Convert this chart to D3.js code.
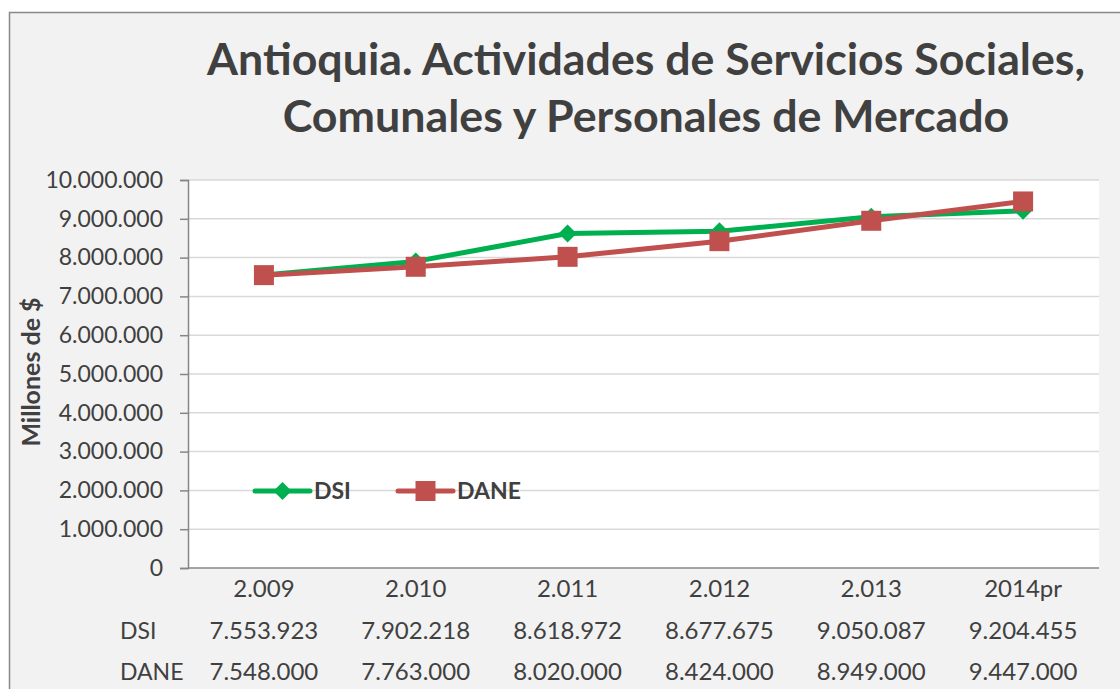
<!DOCTYPE html>
<html>
<head>
<meta charset="utf-8">
<script src="https://cdn.jsdelivr.net/npm/d3@7"></script>
<style>
  html, body { margin: 0; padding: 0; background: #ffffff; }
  svg { display: block; }
  text { font-family: Lato, "Open Sans", sans-serif; fill: #404040; }
</style>
</head>
<body>
<svg id="chart" width="1120" height="689"></svg>
<script>
// Series data
const years = ["2.009", "2.010", "2.011", "2.012", "2.013", "2014pr"];
const dsi = [7553923, 7902218, 8618972, 8677675, 9050087, 9204455];
const dane = [7548000, 7763000, 8020000, 8424000, 8949000, 9447000];
const yTicks = [0, 1000000, 2000000, 3000000, 4000000, 5000000, 6000000, 7000000, 8000000, 9000000, 10000000];
const titleLines = ["Antioquia. Actividades de Servicios Sociales,", "Comunales y Personales de Mercado"];
const yTitle = "Millones de $";
const seriesNames = ["DSI", "DANE"];

const esLocale = d3.formatLocale({ decimal: ",", thousands: ".", grouping: [3], currency: ["$", ""] });
const fmt = esLocale.format(",d");

const svg = d3.select("#chart");
const W = 1120, H = 689;
const plot = { left: 188, right: 1099, top: 180, bottom: 568 };

// Chart area background and frame
svg.append("rect")
  .attr("x", 9.5).attr("y", 12.5)
  .attr("width", W + 20).attr("height", H + 20)
  .attr("fill", "#f2f2f2").attr("stroke", "#898989").attr("stroke-width", 1.5);

svg.append("rect")
  .attr("x", plot.left).attr("y", plot.top)
  .attr("width", plot.right - plot.left).attr("height", plot.bottom - plot.top)
  .attr("fill", "#ffffff");

// Fit a text element to a given width by adjusting its font size
function fitWidth(sel, target) {
  const node = sel.node();
  const fs = parseFloat(sel.attr("font-size"));
  const w = node.getComputedTextLength();
  sel.attr("font-size", (fs * target / w).toFixed(2));
}

// Title
const t1 = svg.append("text").attr("x", 646).attr("y", 75).attr("text-anchor", "middle")
  .attr("font-weight", "bold").attr("font-size", 40).text(titleLines[0]);
fitWidth(t1, 878);
const t2 = svg.append("text").attr("x", 646).attr("y", 132).attr("text-anchor", "middle")
  .attr("font-weight", "bold").attr("font-size", 40).text(titleLines[1]);
fitWidth(t2, 727);

// Scales
const x = d3.scaleBand().domain(years).range([plot.left, plot.right]);
const y = d3.scaleLinear().domain([0, 10000000]).range([plot.bottom, plot.top]);

// Gridlines
svg.append("g").selectAll("line").data(yTicks.filter(d => d > 0)).join("line")
  .attr("x1", plot.left).attr("x2", plot.right)
  .attr("y1", d => y(d)).attr("y2", d => y(d))
  .attr("stroke", "#d9d9d9").attr("stroke-width", 1.5);

// Y axis
const yAxis = svg.append("g").attr("transform", `translate(${plot.left},0)`)
  .call(d3.axisLeft(y).tickValues(yTicks).tickFormat(d => d === 0 ? "0" : fmt(d)).tickSize(8).tickPadding(17));
yAxis.select(".domain").attr("stroke", "#868686").attr("stroke-width", 1.5);
yAxis.selectAll(".tick line").attr("stroke", "#868686").attr("stroke-width", 1.5);
yAxis.selectAll(".tick text").attr("font-family", "Lato, sans-serif").attr("font-size", 23).attr("fill", "#404040");

// X axis line
svg.append("line")
  .attr("x1", plot.left).attr("x2", plot.right)
  .attr("y1", plot.bottom).attr("y2", plot.bottom)
  .attr("stroke", "#868686").attr("stroke-width", 1.5);

// Y axis title
svg.append("text")
  .attr("transform", `translate(40,${(plot.top + plot.bottom) / 2 - 2}) rotate(-90)`)
  .attr("text-anchor", "middle").attr("font-weight", "bold").attr("font-size", 25)
  .text(yTitle);

// Lines
const cx = d => x(d) + x.bandwidth() / 2;
const line = d3.line().x((d, i) => cx(years[i])).y(d => y(d));
const colors = { DSI: "#00b050", DANE: "#c0504d" };

svg.append("path").datum(dsi).attr("d", line)
  .attr("fill", "none").attr("stroke", colors.DSI).attr("stroke-width", 5).attr("stroke-linejoin", "round");
svg.append("path").datum(dane).attr("d", line)
  .attr("fill", "none").attr("stroke", colors.DANE).attr("stroke-width", 5).attr("stroke-linejoin", "round");

const diamond = s => `M0,${-s}L${s},0L0,${s}L${-s},0Z`;
svg.append("g").selectAll("path").data(dsi).join("path")
  .attr("transform", (d, i) => `translate(${cx(years[i])},${y(d)})`)
  .attr("d", diamond(9)).attr("fill", colors.DSI);
svg.append("g").selectAll("rect").data(dane).join("rect")
  .attr("x", (d, i) => cx(years[i]) - 10).attr("y", d => y(d) - 10)
  .attr("width", 20).attr("height", 20).attr("fill", colors.DANE);

// Legend
const legendY = 491;
const lg = svg.append("g");
[{ name: seriesNames[0], x0: 255 }, { name: seriesNames[1], x0: 398 }].forEach(item => {
  lg.append("line").attr("x1", item.x0).attr("x2", item.x0 + 55)
    .attr("y1", legendY).attr("y2", legendY)
    .attr("stroke", colors[item.name]).attr("stroke-width", 5).attr("stroke-linecap", "round");
  const mx = item.x0 + 27.5;
  if (item.name === "DSI") {
    lg.append("path").attr("transform", `translate(${mx},${legendY})`).attr("d", diamond(9)).attr("fill", colors.DSI);
  } else {
    lg.append("rect").attr("x", mx - 10).attr("y", legendY - 10).attr("width", 20).attr("height", 20).attr("fill", colors.DANE);
  }
  lg.append("text").attr("x", item.x0 + 59).attr("y", legendY + 8)
    .attr("font-weight", "bold").attr("font-size", 23).text(item.name);
});

// Data table below the axis
const rows = [
  { label: null, values: years, y: 597 },
  { label: seriesNames[0], values: dsi.map(fmt), y: 639 },
  { label: seriesNames[1], values: dane.map(fmt), y: 680 }
];
rows.forEach(r => {
  const g = svg.append("g");
  g.selectAll("text").data(r.values).join("text")
    .attr("x", (d, i) => cx(years[i])).attr("y", r.y)
    .attr("text-anchor", "middle").attr("font-size", 24).text(d => d);
  if (r.label) {
    g.append("text").attr("x", 120).attr("y", r.y).attr("font-size", 23).text(r.label);
  }
});
</script>
</body>
</html>
